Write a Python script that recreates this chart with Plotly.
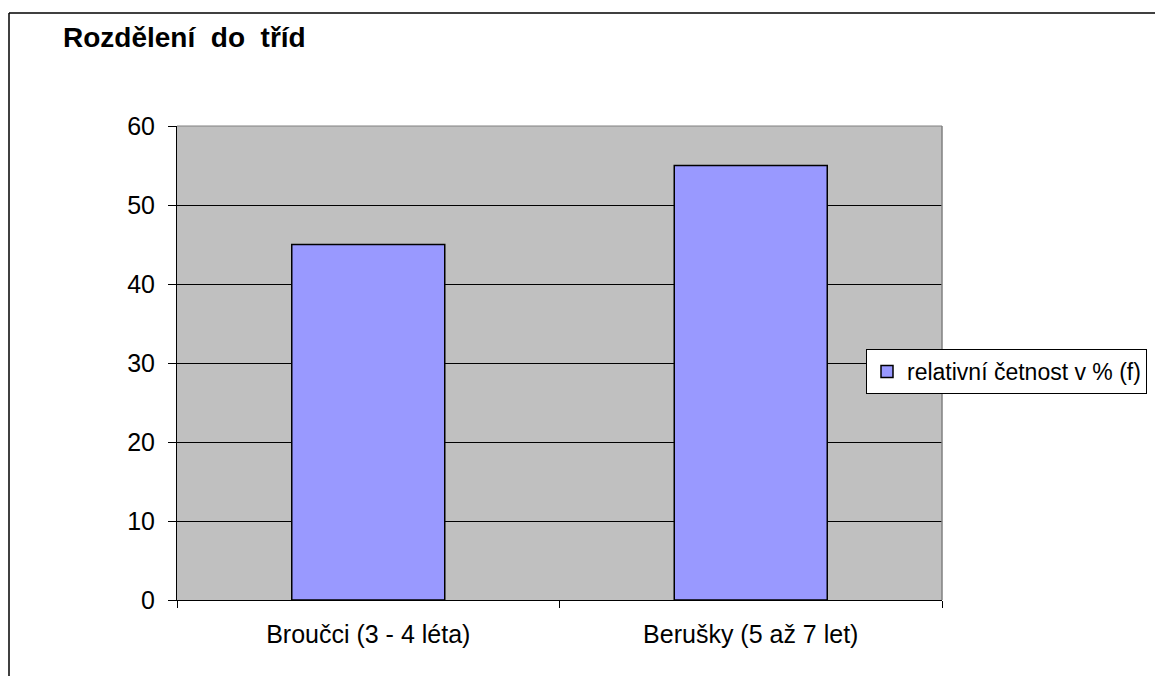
import plotly.graph_objects as go

# Class distribution data
categories = ["Broučci (3 - 4 léta)", "Berušky (5 až 7 let)"]
values = [45, 55]
series_name = "relativní četnost v % (f)"

W, H = 1155, 676
ML, MR, MT, MB = 177, 213, 126, 76
PW, PH = W - ML - MR, H - MT - MB


def px_to_paper_x(px):
    return (px - ML) / PW


def px_to_paper_y(py):
    return (H - MB - py) / PH


fig = go.Figure()
fig.add_trace(go.Bar(
    x=categories,
    y=values,
    name=series_name,
    marker=dict(color="#9999FF", line=dict(color="black", width=1.5)),
    showlegend=True,
))

font = "Liberation Sans, Arial, sans-serif"

fig.update_layout(
    width=W, height=H,
    margin=dict(l=ML, r=MR, t=MT, b=MB, autoexpand=False),
    paper_bgcolor="white",
    plot_bgcolor="#C0C0C0",
    bargap=0.6,
    font=dict(family=font, size=25, color="black"),
    title=dict(
        text="<b>Rozdělení  do  tříd</b>",
        font=dict(family=font, size=28, color="black"),
        x=63 / W, xanchor="left",
        y=1 - 37 / H, yanchor="middle",
    ),
    xaxis=dict(
        type="category",
        showline=True, linecolor="black", linewidth=1,
        ticks="outside", tickson="boundaries", ticklen=7, tickcolor="black",
        showgrid=False,
        tickfont=dict(family=font, size=25),
        ticklabelstandoff=12,
    ),
    yaxis=dict(
        range=[0, 60], dtick=10,
        showline=True, linecolor="black", linewidth=1,
        ticks="outside", ticklen=8, tickcolor="black",
        showgrid=True, gridcolor="black", gridwidth=1,
        zeroline=False,
        tickfont=dict(family=font, size=25),
        ticklabelstandoff=8,
    ),
    legend=dict(
        x=px_to_paper_x(866), xanchor="left",
        y=px_to_paper_y(349), yanchor="top",
        bgcolor="white", bordercolor="black", borderwidth=1,
        font=dict(family=font, size=23),
        itemwidth=30,
    ),
    shapes=[
        # plot area frame (top and right edges)
        dict(type="line", xref="paper", yref="paper", x0=0, x1=1, y0=1, y1=1,
             line=dict(color="#808080", width=1)),
        dict(type="line", xref="paper", yref="paper", x0=1, x1=1, y0=0, y1=1,
             line=dict(color="#808080", width=1.5)),
        # outer chart border
        dict(type="line", xref="paper", yref="paper",
             x0=px_to_paper_x(9), x1=px_to_paper_x(1170),
             y0=px_to_paper_y(13), y1=px_to_paper_y(13),
             line=dict(color="black", width=1.5)),
        dict(type="line", xref="paper", yref="paper",
             x0=px_to_paper_x(9), x1=px_to_paper_x(9),
             y0=px_to_paper_y(13), y1=px_to_paper_y(690),
             line=dict(color="black", width=1.5)),
    ],
)

fig.write_html("out.html")
